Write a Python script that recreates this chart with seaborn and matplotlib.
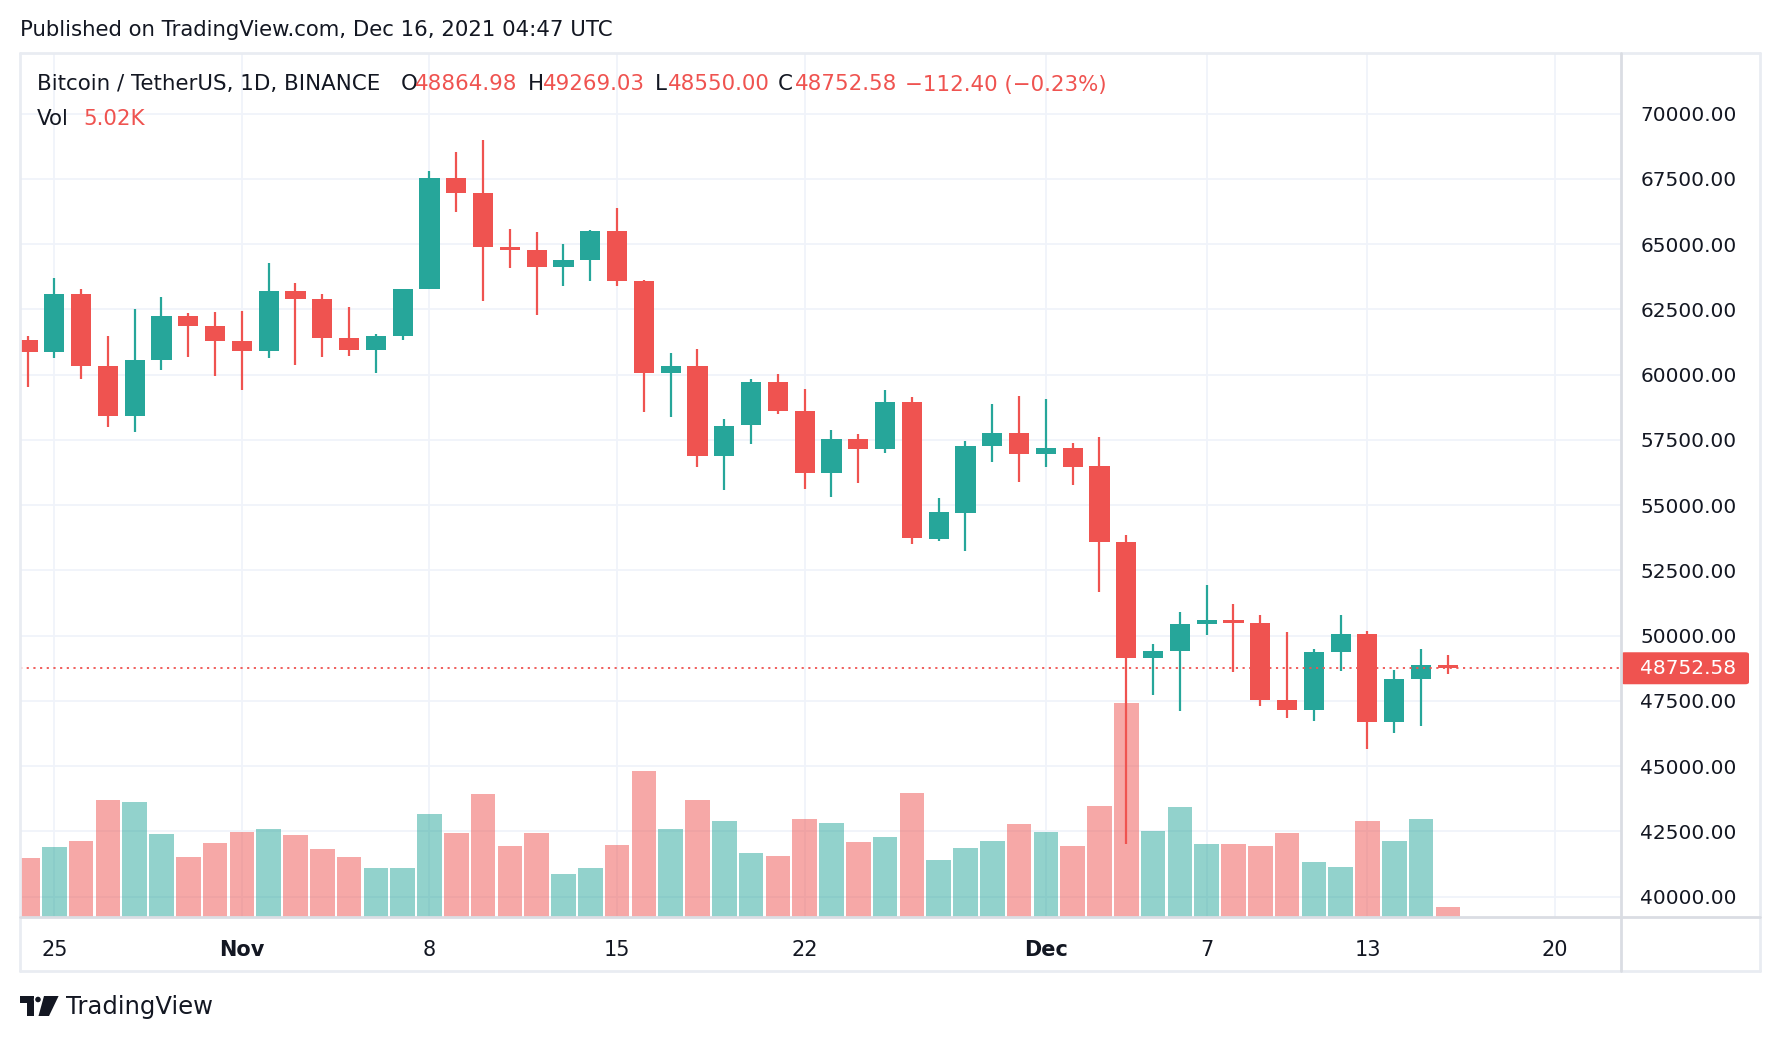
import numpy as np
import pandas as pd
import matplotlib.pyplot as plt
import matplotlib.patches as mpatches
from matplotlib.lines import Line2D
import seaborn as sns

# daily BTCUSDT candles, Binance, Oct 24 - Dec 16 2021
dates = pd.date_range("2021-10-24", "2021-12-16", freq="D")
opens = [61312.53, 60861.12, 63078.78, 60328.81, 58413.44, 60575.90, 62253.70, 61859.19,
         61299.81, 60911.12, 63220.57, 62896.49, 61395.01, 60940.18, 61470.62, 63273.58,
         67525.82, 66947.67, 64882.42, 64774.25, 64122.22, 64380.01, 65519.11, 63606.73,
         60058.88, 60344.86, 56891.62, 58057.10, 59707.52, 58617.70, 56243.83, 57541.26,
         57138.29, 58960.37, 53723.72, 54716.47, 57274.89, 57776.25, 56950.56, 57184.07,
         56484.26, 53601.05, 49152.46, 49396.32, 50441.91, 50588.95, 50471.19, 47535.90,
         47140.54, 49389.99, 50053.90, 46702.76, 48336.95, 48864.98]
highs = [61488.00, 63710.63, 63293.48, 61496.00, 62499.00, 62980.00, 62359.25, 62405.30,
         62437.74, 64270.00, 63500.00, 63086.31, 62595.72, 61560.49, 63286.35, 67789.00,
         68524.25, 69000.00, 65600.07, 65450.70, 64990.00, 65550.51, 66401.82, 63617.31,
         60840.23, 60976.00, 58320.00, 59845.00, 60029.76, 59444.00, 57875.71, 57735.00,
         59398.90, 59150.00, 55280.00, 57445.05, 58865.97, 59176.99, 59053.55, 57375.47,
         57600.00, 53859.10, 49699.05, 50891.11, 51936.33, 51200.00, 50797.76, 50125.00,
         49485.71, 50777.00, 50189.97, 48700.41, 49500.00, 49269.03]
lows = [59510.63, 60650.00, 59817.55, 58000.00, 57820.00, 60174.81, 60673.00, 59945.36,
        59405.00, 60624.68, 60382.76, 60677.01, 60721.00, 60050.00, 61322.78, 63273.58,
        66222.40, 62822.90, 64100.00, 62278.00, 63410.51, 63576.27, 63400.00, 58574.07,
        58373.00, 56474.26, 55600.00, 57353.00, 58486.65, 55610.00, 55317.00, 55837.00,
        57000.00, 53500.00, 53610.00, 53256.64, 56666.67, 55875.55, 56458.01, 55777.77,
        51680.00, 42000.30, 47727.21, 47100.00, 50039.74, 48600.00, 47320.00, 46852.00,
        46751.00, 48638.00, 45672.75, 46290.00, 46547.00, 48550.00]
closes = [60861.11, 63078.78, 60328.81, 58413.44, 60575.89, 62253.71, 61859.19, 61299.80,
          60911.11, 63219.99, 62896.48, 61395.01, 60937.12, 61470.61, 63273.59, 67525.83,
          66947.66, 64882.43, 64774.26, 64122.23, 64380.00, 65519.10, 63606.74, 60058.87,
          60344.87, 56891.62, 58052.24, 59707.51, 58622.02, 56247.18, 57541.27, 57138.29,
          58960.36, 53726.53, 54721.03, 57274.88, 57776.25, 56950.56, 57184.07, 56480.34,
          53601.05, 49152.47, 49396.33, 50441.92, 50588.95, 50471.19, 47545.59, 47140.54,
          49389.99, 50053.90, 46702.75, 48343.28, 48864.98, 48752.58]
# volume, thousands of BTC
volumes = [30.3, 36.0, 39.1, 60.3, 59.3, 42.8, 30.9, 38.1,
           43.8, 45.3, 42.2, 35.0, 30.9, 25.2, 25.2, 53.1,
           43.3, 63.4, 36.6, 43.3, 22.1, 25.2, 37.1, 75.3,
           45.3, 60.3, 49.5, 32.9, 31.4, 50.5, 48.4, 38.6,
           41.2, 64.0, 29.3, 35.5, 39.1, 47.9, 43.8, 36.6,
           57.2, 110.6, 44.3, 56.7, 37.6, 37.6, 36.6, 43.3,
           28.3, 25.7, 49.5, 39.1, 50.5, 5.02]
tick_dates = pd.to_datetime(["2021-10-25", "2021-11-01", "2021-11-08", "2021-11-15", "2021-11-22",
                             "2021-12-01", "2021-12-07", "2021-12-13", "2021-12-20"])
price_ticks = np.arange(40000, 70001, 2500)

RED = "#EF5350"
GREEN = "#26A69A"
TXT = "#131722"
GRID = "#F0F3FA"

df = pd.DataFrame({"date": dates, "open": opens, "high": highs, "low": lows,
                   "close": closes, "vol": volumes})
df["idx"] = (df["date"] - df["date"].iloc[0]).dt.days
df["dir"] = np.where(df["close"] >= df["open"], "up", "down")
tick_idx = (tick_dates - dates[0]).days
tick_lab = [d.strftime("%b") if d.day == 1 else str(d.day) for d in tick_dates]

sns.set_theme(style="white")
plt.rcParams["font.family"] = ["DejaVu Sans"]

W, H = 1780, 1042
fig = plt.figure(figsize=(W / 100, H / 100), dpi=100)
fig.patch.set_facecolor("white")

def fx(x):
    return x / W

def fy(y):
    return 1 - y / H

L, R, T, B = 20, 1620.7, 53.3, 916.7
rect = [fx(L), fy(B), fx(R) - fx(L), fy(T) - fy(B)]
ax_vol = fig.add_axes(rect)
ax = fig.add_axes(rect, sharex=ax_vol)
ax.patch.set_visible(False)
ax.set_zorder(ax_vol.get_zorder() + 1)

ymin, ymax = 39234, 72314
xmin, xmax = -0.28, 59.45

# volume pane (behind the candles)
sns.barplot(data=df, x="idx", y="vol", hue="dir", palette={"up": GREEN, "down": RED},
            native_scale=True, dodge=False, width=0.92, saturation=1, alpha=0.5,
            errorbar=None, legend=False, linewidth=0, ax=ax_vol)
ax_vol.set_ylim(0, 446.4)
ax_vol.set_xlim(xmin, xmax)
ax_vol.set_xlabel("")
ax_vol.set_ylabel("")
ax_vol.set_yticks([])
ax_vol.hlines(price_ticks, xmin, xmax, colors=GRID, linewidth=1.3,
              transform=ax.transData, zorder=0)
ax_vol.set_xticks(tick_idx)
ax_vol.set_xticklabels(tick_lab)
for lab, d in zip(ax_vol.get_xticklabels(), tick_dates):
    if d.day == 1:
        lab.set_fontweight("bold")
ax_vol.grid(axis="x", color=GRID, linewidth=1.3)
ax_vol.set_axisbelow(True)
ax_vol.tick_params(axis="x", length=0, pad=17, labelsize=15, labelcolor=TXT)
for s in ax_vol.spines.values():
    s.set_visible(False)

# candles
cols = np.where(df["dir"] == "up", GREEN, RED)
body_lo = np.minimum(df["open"], df["close"])
body_h = np.maximum((df["close"] - df["open"]).abs(), 40)
ax.vlines(df["idx"], df["low"], df["high"], colors=cols, linewidth=1.6, zorder=2)
ax.bar(df["idx"], body_h, bottom=body_lo, width=0.75, color=cols, linewidth=0, zorder=3)
ax.set_ylim(ymin, ymax)
ax.set_xlim(xmin, xmax)
ax.yaxis.tick_right()
ax.set_yticks(price_ticks)
ax.set_yticklabels([f"{v:.2f}" for v in price_ticks])
ax.tick_params(axis="y", length=0, pad=14, labelsize=14.5, labelcolor=TXT)
ax.tick_params(axis="x", labelbottom=False, length=0)
for s in ax.spines.values():
    s.set_visible(False)

# last price line and label
last = closes[-1]
ax.axhline(last, color=RED, linewidth=1.3, linestyle=(0, (1.2, 2.5)), zorder=4)
yl = fy(B) + (last - ymin) / (ymax - ymin) * (fy(T) - fy(B))
fig.patches.append(mpatches.FancyBboxPatch((fx(1621), yl - 16 / H), fx(128), 32 / H,
                                           boxstyle="round,pad=0,rounding_size=0.002",
                                           transform=fig.transFigure, facecolor=RED,
                                           edgecolor="none"))
fig.text(fx(1640), yl, f"{last:.2f}", color="white", fontsize=14.5, va="center", ha="left")

# frame lines
for x0, y0, x1, y1, c in [(L, T, 1760, T, "#E9ECF2"), (L, 971, 1760, 971, "#E9ECF2"),
                          (L, T, L, 971, "#E9ECF2"), (1760, T, 1760, 971, "#E9ECF2"),
                          (R, T, R, 971, "#DADDE3"), (L, B, 1760, B, "#DADDE3")]:
    fig.add_artist(Line2D([fx(x0), fx(x1)], [fy(y0), fy(y1)], color=c, linewidth=2,
                          transform=fig.transFigure))

# header texts
fig.text(fx(20), fy(30), "Published on TradingView.com, Dec 16, 2021 04:47 UTC",
         color=TXT, fontsize=15.3, va="center")
chg = closes[-1] - closes[-2]
pct = chg / closes[-2] * 100
row = [(36.6, "Bitcoin / TetherUS, 1D, BINANCE", TXT),
       (400.4, "O", TXT), (415, f"{opens[-1]:.2f}", RED),
       (528, "H", TXT), (543, f"{highs[-1]:.2f}", RED),
       (655, "L", TXT), (668, f"{lows[-1]:.2f}", RED),
       (777.8, "C", TXT), (795, f"{closes[-1]:.2f}", RED),
       (905, f"{chg:.2f} ({pct:.2f}%)".replace("-", "\u2212"), RED)]
for x, s, c in row:
    fig.text(fx(x), fy(84.5), s, color=c, fontsize=15.4, va="center")
fig.text(fx(36.6), fy(119), "Vol", color=TXT, fontsize=15.4, va="center")
fig.text(fx(83.5), fy(119), f"{volumes[-1]:.2f}K", color=RED, fontsize=15.4, va="center")

# TradingView logo
logo = [[(20, 996), (34, 996), (34, 1016), (27, 1016), (27, 1003), (20, 1003)],
        [(44, 996), (58.6, 996), (49, 1016), (38.5, 1016)]]
for poly in logo:
    fig.patches.append(mpatches.Polygon([(fx(a), fy(b)) for a, b in poly], closed=True,
                                        transform=fig.transFigure, facecolor=TXT,
                                        edgecolor="none"))
fig.patches.append(mpatches.Ellipse((fx(38), fy(999.5)), fx(7), 7 / H,
                                    transform=fig.transFigure, facecolor=TXT))
fig.text(fx(65.8), fy(1006.7), "TradingView", color=TXT, fontsize=17.5, va="center")

fig.savefig("out.png", dpi=100, facecolor="white")
